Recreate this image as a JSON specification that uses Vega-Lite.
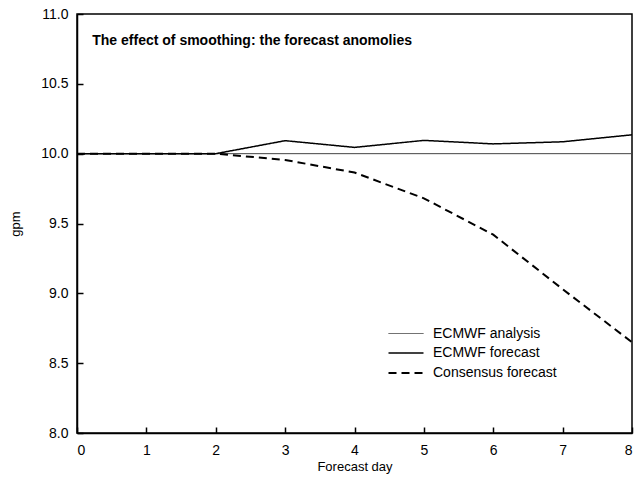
{
  "$schema": "https://vega.github.io/schema/vega-lite/v6.json",
  "autosize": "none",
  "width": 555,
  "height": 419,
  "padding": {"left": 77, "top": 14, "right": 9, "bottom": 46},
  "background": "white",
  "config": {
    "font": "Liberation Sans",
    "view": {"stroke": "black", "strokeWidth": 1.5},
    "axis": {"grid": false, "domainColor": "black", "domainWidth": 1.5, "ticks": true, "tickColor": "black", "tickWidth": 1.5, "tickSize": -6, "labelColor": "black", "titleColor": "black", "labelFontSize": 14, "titleFontSize": 13, "titleFontWeight": "normal"}
  },
  "layer": [
    {
      "data": {"values": [
        {"series": "ECMWF analysis", "day": 0, "gpm": 10.0},
        {"series": "ECMWF analysis", "day": 8, "gpm": 10.0},
        {"series": "ECMWF forecast", "day": 0, "gpm": 10.0},
        {"series": "ECMWF forecast", "day": 1, "gpm": 10.0},
        {"series": "ECMWF forecast", "day": 2, "gpm": 10.0},
        {"series": "ECMWF forecast", "day": 3, "gpm": 10.093},
        {"series": "ECMWF forecast", "day": 4, "gpm": 10.045},
        {"series": "ECMWF forecast", "day": 5, "gpm": 10.095},
        {"series": "ECMWF forecast", "day": 6, "gpm": 10.07},
        {"series": "ECMWF forecast", "day": 7, "gpm": 10.085},
        {"series": "ECMWF forecast", "day": 8, "gpm": 10.135},
        {"series": "Consensus forecast", "day": 0, "gpm": 10.0},
        {"series": "Consensus forecast", "day": 1, "gpm": 10.0},
        {"series": "Consensus forecast", "day": 2, "gpm": 10.0},
        {"series": "Consensus forecast", "day": 3, "gpm": 9.955},
        {"series": "Consensus forecast", "day": 4, "gpm": 9.865},
        {"series": "Consensus forecast", "day": 5, "gpm": 9.68},
        {"series": "Consensus forecast", "day": 6, "gpm": 9.42},
        {"series": "Consensus forecast", "day": 7, "gpm": 9.03},
        {"series": "Consensus forecast", "day": 8, "gpm": 8.65}
      ]},
      "mark": {"type": "line", "clip": true},
      "encoding": {
        "x": {"field": "day", "type": "quantitative", "scale": {"domain": [0, 8], "nice": false}, "axis": {"values": [0,1,2,3,4,5,6,7,8], "format": "d", "labelPadding": 16, "title": "Forecast day", "titlePadding": 3}},
        "y": {"field": "gpm", "type": "quantitative", "scale": {"domain": [8, 11], "nice": false, "zero": false}, "axis": {"values": [8,8.5,9,9.5,10,10.5,11], "format": ".1f", "labelPadding": 15, "title": "gpm", "titlePadding": 18}},
        "color": {"field": "series", "type": "nominal", "scale": {"domain": ["ECMWF analysis", "ECMWF forecast", "Consensus forecast"], "range": ["#444444", "black", "black"]},
          "legend": {"title": null, "orient": "none", "legendX": 319, "legendY": 310, "symbolType": "M-2,0H2", "symbolSize": 306, "labelFontSize": 14, "labelColor": "black", "rowPadding": 2.5, "labelOffset": 17}},
        "strokeDash": {"field": "series", "type": "nominal", "scale": {"domain": ["ECMWF analysis", "ECMWF forecast", "Consensus forecast"], "range": [[1,0],[1,0],[8,5]]}},
        "strokeWidth": {"field": "series", "type": "nominal", "scale": {"domain": ["ECMWF analysis", "ECMWF forecast", "Consensus forecast"], "range": [1, 2, 2]}},
        "order": {"field": "day"}
      }
    },
    {
      "data": {"values": [{"label": "The effect of smoothing: the forecast anomolies", "day": 0.22, "gpm": 10.81}]},
      "mark": {"type": "text", "align": "left", "baseline": "middle", "fontWeight": "bold", "fontSize": 14, "color": "black", "font": "Liberation Sans"},
      "encoding": {
        "x": {"field": "day", "type": "quantitative"},
        "y": {"field": "gpm", "type": "quantitative"},
        "text": {"field": "label"}
      }
    }
  ]
}
